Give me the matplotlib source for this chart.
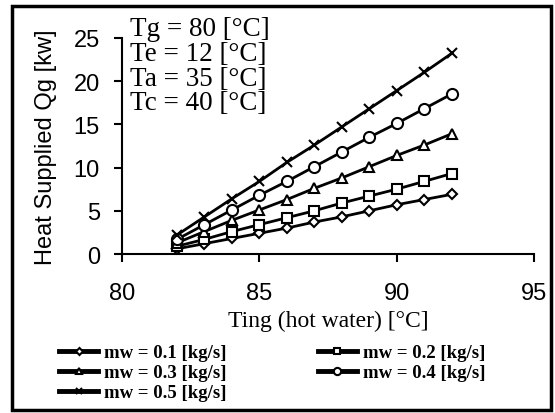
import matplotlib.pyplot as plt
import matplotlib.patches as mpatches
from matplotlib.lines import Line2D

"""Heat supplied vs hot water inlet temperature"""

ting = [82, 83, 84, 85, 86, 87, 88, 89, 90, 91, 92]

qg_01 = [0.6, 1.2, 1.8, 2.4, 3.0, 3.7, 4.3, 5.0, 5.7, 6.3, 6.9]
qg_02 = [0.9, 1.7, 2.6, 3.4, 4.2, 5.0, 5.9, 6.7, 7.5, 8.4, 9.3]
qg_03 = [1.3, 2.6, 3.9, 5.1, 6.3, 7.6, 8.8, 10.1, 11.4, 12.6, 13.9]
qg_04 = [1.7, 3.4, 5.1, 6.8, 8.4, 10.1, 11.8, 13.5, 15.1, 16.8, 18.5]
qg_05 = [2.2, 4.3, 6.4, 8.4, 10.6, 12.6, 14.7, 16.8, 18.9, 21.0, 23.2]

labels = ["mw = 0.1 [kg/s]", "mw = 0.2 [kg/s]", "mw = 0.3 [kg/s]",
          "mw = 0.4 [kg/s]", "mw = 0.5 [kg/s]"]
conditions = ["Tg = 80 [°C]", "Te = 12 [°C]", "Ta = 35 [°C]", "Tc = 40 [°C]"]

series = [
    (qg_01, 'D', 5.5),
    (qg_02, 's', 7.5),
    (qg_03, '^', 7.5),
    (qg_04, 'o', 8),
    (qg_05, 'x', 7),
]

fig = plt.figure(figsize=(5.55, 4.14), dpi=100)
ax = fig.add_axes([0.22, 0.384, 0.742, 0.522])

proxies = []
for (vals, m, ms), label in zip(series, labels):
    ax.plot(ting, vals, color='black', linewidth=2, marker=m, markersize=ms,
            markerfacecolor='white', markeredgecolor='black', markeredgewidth=1.5)
    proxies.append(Line2D([], [], color='black', linewidth=3.5, marker=m,
                          markersize=ms * 0.65, markerfacecolor='white',
                          markeredgecolor='black', markeredgewidth=1.5, label=label))

ax.set_xlim(80, 95)
ax.set_ylim(0, 25)
ax.set_xticks([80, 85, 90, 95])
ax.set_yticks([0, 5, 10, 15, 20, 25])
ax.spines['top'].set_visible(False)
ax.spines['right'].set_visible(False)
ax.spines['left'].set_linewidth(1.5)
ax.spines['bottom'].set_linewidth(1.5)
ax.tick_params(direction='out', length=6, width=1.5, labelsize=17)
for t in ax.get_xticklabels() + ax.get_yticklabels():
    t.set_family('Liberation Sans')
ax.tick_params(axis='x', pad=14)
ax.tick_params(axis='y', pad=10)

ax.set_xlabel("Ting (hot water) [°C]", family='Liberation Serif', fontsize=17, labelpad=4)
ax.set_ylabel("Heat Supplied Qg [kw]", family='Liberation Sans', fontsize=17, labelpad=12)

ax.text(0.02, 1.10, "\n".join(conditions), transform=ax.transAxes,
        family='Liberation Serif', fontsize=19.5, va='top', ha='left', linespacing=0.98)

# row-major order like the original legend
order = [0, 2, 4, 1, 3]
fig.legend(handles=[proxies[i] for i in order], loc='upper left',
           bbox_to_anchor=(0.106, 0.166), ncol=2, frameon=False,
           handlelength=2.1, handletextpad=0.3, columnspacing=4.87,
           labelspacing=0.15, borderpad=0, borderaxespad=0,
           prop={'family': 'Liberation Serif', 'weight': 'bold', 'size': 13.5})

fig.patches.append(mpatches.Rectangle((0.022, 0.007), 0.97, 0.977, transform=fig.transFigure,
                                      fill=False, edgecolor='black', linewidth=2.5))

fig.savefig('out.png', dpi=100)
